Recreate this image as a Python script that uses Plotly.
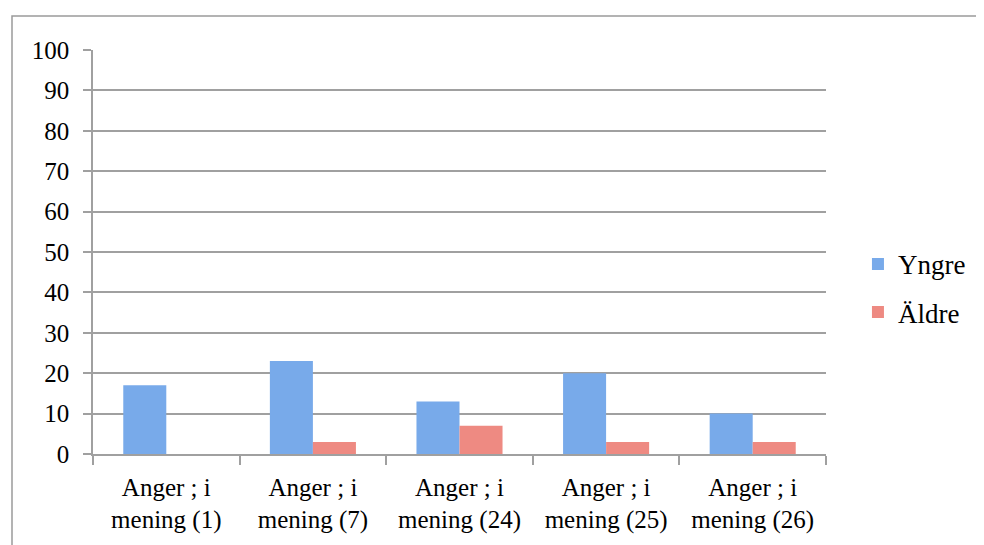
import plotly.graph_objects as go

categories = ["Anger ; i<br>mening (1)", "Anger ; i<br>mening (7)", "Anger ; i<br>mening (24)",
              "Anger ; i<br>mening (25)", "Anger ; i<br>mening (26)"]
yngre = [17, 23, 13, 20, 10]
aldre = [0, 3, 7, 3, 3]
y_ticks = list(range(0, 101, 10))

FONT = "Liberation Serif"

fig = go.Figure()
fig.add_trace(go.Bar(name="Yngre", x=categories, y=yngre, legendgroup="a",
                     marker=dict(color="#78aaea", line=dict(width=0))))
fig.add_trace(go.Bar(name="Äldre", x=categories, y=aldre, legendgroup="b",
                     marker=dict(color="#ee8a82", line=dict(width=0))))

fig.update_layout(
    width=984, height=545,
    margin=dict(l=85, r=166, t=42, b=99),
    paper_bgcolor="white", plot_bgcolor="white",
    barmode="group", bargap=0.413, bargroupgap=0,
    font=dict(family=FONT, size=25, color="black"),
    legend=dict(x=1.0436, y=0.41, xanchor="left", yanchor="middle",
                font=dict(family=FONT, size=27), tracegroupgap=10,
                bgcolor="rgba(0,0,0,0)"),
    shapes=[dict(type="rect", xref="paper", yref="paper",
                 x0=-0.1105, x1=1.2115, y0=-0.3, y1=1.084,
                 line=dict(color="#9a9a9a", width=1.5), layer="below")],
)
fig.update_yaxes(range=[0, 100], tickvals=y_ticks, showgrid=True,
                 gridcolor="#a0a0a0", gridwidth=1.5,
                 showline=True, linecolor="#a0a0a0", linewidth=1.5,
                 ticks="outside", ticklen=8, tickcolor="#a0a0a0", tickwidth=1.5,
                 zeroline=False, ticklabelstandoff=9,
                 tickfont=dict(family=FONT, size=25))
fig.update_xaxes(showline=True, linecolor="#a0a0a0", linewidth=1.5,
                 ticks="outside", tickson="boundaries", ticklen=9,
                 tickcolor="#a0a0a0", tickwidth=1.5, showgrid=False,
                 ticklabelstandoff=10,
                 tickfont=dict(family=FONT, size=25))

fig.write_html("out.html")
